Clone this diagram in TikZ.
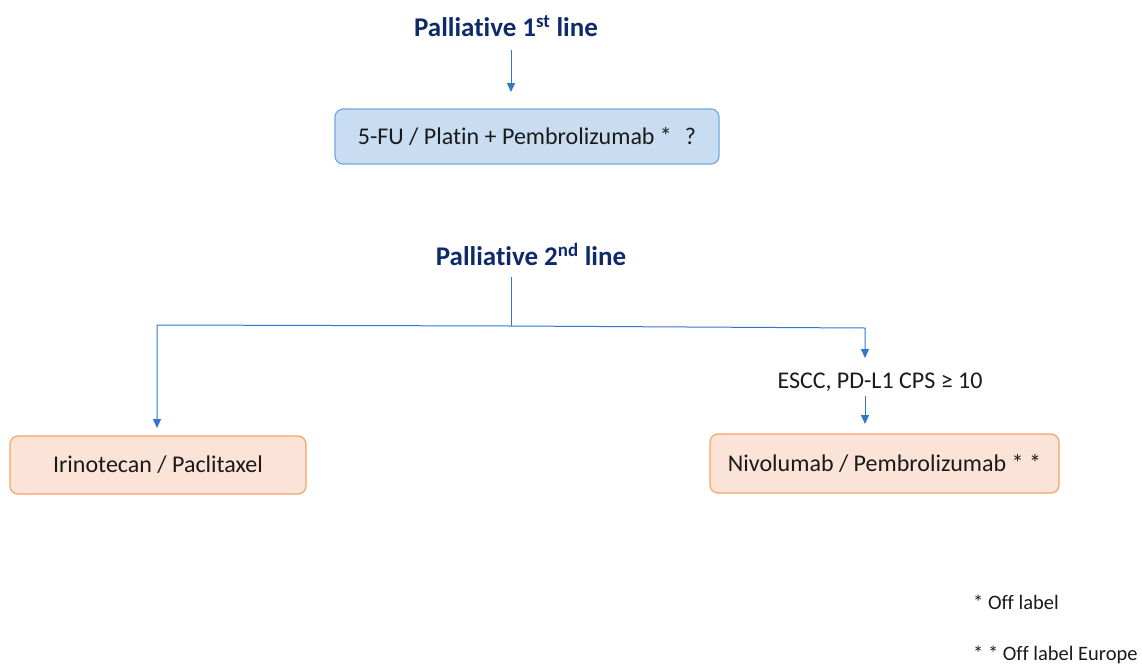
\documentclass[tikz,border=0pt]{standalone}
\usepackage{fontspec}
\setmainfont{Carlito}[Ligatures={NoCommon}]
\usetikzlibrary{arrows.meta}
\definecolor{navy}{HTML}{0E2A6B}
\definecolor{linec}{HTML}{2F78C8}
\definecolor{bluefill}{HTML}{C9DDF2}
\definecolor{blueline}{HTML}{6FAADB}
\definecolor{orfill}{HTML}{FCE3D7}
\definecolor{orline}{HTML}{F5A463}
\definecolor{txt}{HTML}{1A1A1A}
\begin{document}
\begin{tikzpicture}[x=1pt,y=-1pt,
  title/.style={font=\fontsize{27}{30}\selectfont\bfseries, text=navy, inner sep=0pt},
  bluebox/.style={draw=blueline, fill=bluefill, line width=1.2pt, rounded corners=8pt, font=\fontsize{24}{28}\selectfont, text=txt},
  orbox/.style={draw=orline, fill=orfill, line width=1.2pt, rounded corners=8pt, font=\fontsize{24}{28}\selectfont, text=txt},
  plain/.style={font=\fontsize{24}{28}\selectfont, text=txt, inner sep=0pt},
  note/.style={font=\fontsize{20.5}{24}\selectfont, text=txt, inner sep=0pt, anchor=west},
  conn/.style={draw=linec, line width=1pt},
  arr/.style={conn, -{Triangle[length=9pt,width=8pt]}}]
\useasboundingbox (0,0) rectangle (1142,664);
\node[title] (t1) at (506,26) {Palliative 1\textsuperscript{st} line};
\node[bluebox, minimum width=384pt, minimum height=55pt] (b1) at (527,136.5) {5-FU / Platin + Pembrolizumab *\hspace{13pt}?};
\node[title] (t2) at (531,254) {Palliative 2\textsuperscript{nd} line};
\node[orbox, minimum width=296pt, minimum height=58pt] (bl) at (158,465) {Irinotecan / Paclitaxel};
\node[orbox, minimum width=349pt, minimum height=59pt] (br) at (884.5,463.5) {Nivolumab / Pembrolizumab * *};
\node[plain] (escc) at (880,382) {ESCC, PD-L1 CPS ≥ 10};
\node[note] (n1) at (973,602) {* Off label};
\node[note] (n2) at (973,655) {* * Off label Europe};
\coordinate (s1) at (511,50);
\coordinate (e1) at (511,92);
\draw[arr] (s1) -- (e1);
\coordinate (s2) at (511,277);
\coordinate (j) at (511,326);
\coordinate (jl) at (157,325);
\coordinate (jr) at (865,328);
\coordinate (el) at (157,428);
\coordinate (er) at (865,358);
\draw[conn] (s2) -- (j);
\draw[arr] (j) -- (jl) -- (el);
\draw[arr] (j) -- (jr) -- (er);
\coordinate (s3) at (865,396);
\coordinate (e3) at (865,424);
\draw[arr] (s3) -- (e3);
\end{tikzpicture}
\end{document}
